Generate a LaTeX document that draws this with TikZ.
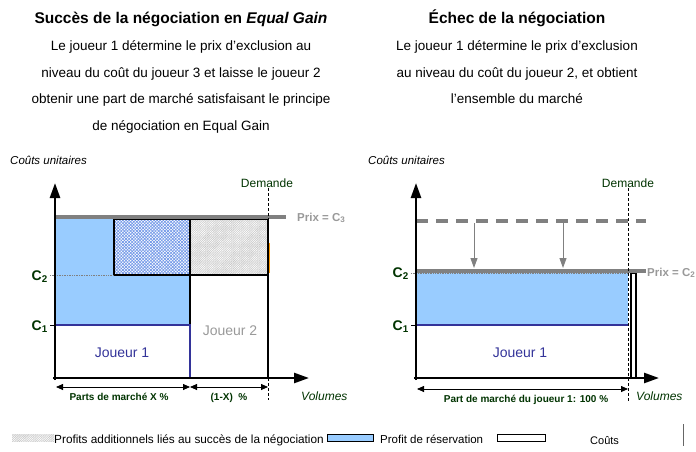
\documentclass[tikz,border=0pt]{standalone}
\usepackage{fontspec}
\setmainfont{Liberation Sans}
\usetikzlibrary{patterns.meta,arrows.meta}
\definecolor{lblue}{HTML}{99CCFF}
\definecolor{dblue}{HTML}{333399}
\definecolor{dgreen}{HTML}{003300}
\definecolor{pgray}{HTML}{808080}
\definecolor{tgray}{HTML}{999999}
\definecolor{hblue}{HTML}{6F96E8}
\definecolor{orng}{HTML}{FF9900}
\tikzset{
  txt/.style={inner sep=0pt,anchor=base},
  fs/.style={font=\fontsize{#1}{#1}\selectfont},
  axis/.style={line width=2.5pt,-{Triangle[length=15pt,width=10pt]}},
  priceline/.style={line width=4pt,pgray},
  demand/.style={densely dashed,line width=0.6pt},
  dimarrow/.style={line width=0.8pt,{Triangle[length=7pt,width=6pt]}-{Triangle[length=7pt,width=6pt]}},
  downarrow/.style={line width=1pt,pgray,-{Triangle[length=10pt,width=7pt]}},
  boxline/.style={line width=1.6pt},
  bluehatch/.style={pattern={Lines[angle=45,distance=2.2pt,line width=0.65pt]},pattern color=hblue},
  bluehatch2/.style={pattern={Lines[angle=-45,distance=2.2pt,line width=0.65pt]},pattern color=hblue},
  grayhatch/.style={pattern={Lines[angle=45,distance=1.6pt,line width=0.45pt]},pattern color=black!28},
  grayhatch2/.style={pattern={Lines[angle=-45,distance=1.6pt,line width=0.45pt]},pattern color=black!15},
  clab/.style={txt,font=\bfseries\fontsize{14}{14}\selectfont,text=dgreen},
}
\begin{document}
\begin{tikzpicture}[x=1pt,y=-1pt]
\useasboundingbox (0,0) rectangle (696,452);
% ---------- titles left
\node[txt,font=\bfseries\fontsize{15.5}{15.5}\selectfont] (tl) at (181,23.5) {Succès de la négociation en \textit{Equal Gain}};
\node[txt,fs=13.5] (l1) at (181,51) {Le joueur 1 détermine le prix d’exclusion au};
\node[txt,fs=13.5] (l2) at (181,77.5) {niveau du coût du joueur 3 et laisse le joueur 2};
\node[txt,fs=13.5] (l3) at (181,103.5) {obtenir une part de marché satisfaisant le principe};
\node[txt,fs=13.5] (l4) at (181,130) {de négociation en Equal Gain};
% ---------- titles right
\node[txt,font=\bfseries\fontsize{15.5}{15.5}\selectfont] (tr) at (517,23.5) {Échec de la négociation};
\node[txt,fs=13.5] (r1) at (517,51) {Le joueur 1 détermine le prix d’exclusion};
\node[txt,fs=13.5] (r2) at (517,77.5) {au niveau du coût du joueur 2, et obtient};
\node[txt,fs=13.5] (r3) at (517,103.5) {l’ensemble du marché};

% ================= LEFT PANEL
\node[txt,anchor=base west,font=\itshape\fontsize{11.5}{11.5}\selectfont] (cul) at (10,164) {Coûts unitaires};
\coordinate (O1) at (55,378);
\fill[lblue] (55,219) rectangle (190,325);
\fill[white] (114,219) rectangle (190,275);
\fill[bluehatch] (114,219) rectangle (190,275);
\fill[bluehatch2] (114,219) rectangle (190,275);
\draw[boxline] (114,219) rectangle (190,275);
\fill[grayhatch] (190,219) rectangle (268,275);
\fill[grayhatch2] (190,219) rectangle (268,275);
\draw[boxline] (190,219) rectangle (268,275);
\draw[boxline] (190,275) rectangle (268,378);
\draw[boxline] (190,219) -- (190,325);
\draw[boxline,dblue] (55,325) -- (190,325) -- (190,378);
\draw[orng,line width=1pt] (269.5,243) -- (269.5,273);
\draw[priceline] (55,217) -- (286,217);
\draw[demand] (268,188) -- (268,400);
\node[txt,fs=12,text=dgreen] (dem1) at (267,187) {Demande};
\node[txt,anchor=base west,font=\bfseries\fontsize{11.5}{11.5}\selectfont,text=tgray] (p1) at (297,221) {Prix = C\textsubscript{3}};
\draw[densely dotted,line width=0.7pt,pgray] (50,275) -- (114,275);
\draw[line width=0.8pt] (50,325) -- (55,325);
\node[clab,anchor=base east] (c2l) at (48,280) {C\textsubscript{2}};
\node[clab,anchor=base east] (c1l) at (48,330) {C\textsubscript{1}};
\node[txt,fs=14,text=dblue] (j1l) at (122,357) {Joueur 1};
\node[txt,fs=14,text=tgray] (j2l) at (230,335) {Joueur 2};
\draw[axis] (55,380) -- (55,183);
\draw[axis] (53,378) -- (309,378);
\coordinate (a1) at (56,387); \coordinate (a2) at (190,387); \coordinate (a3) at (268,387);
\draw[dimarrow] (a1) -- (a2);
\draw[dimarrow] (a2) -- (a3);
\node[txt,font=\bfseries\fontsize{10}{10}\selectfont,text=dgreen] (pm1) at (119,400) {Parts de marché X \%};
\node[txt,font=\bfseries\fontsize{10}{10}\selectfont,text=dgreen] (pm2) at (229,400) {(1-X)~~\%};
\node[txt,anchor=base west,font=\itshape\fontsize{12}{12}\selectfont,text=dgreen] (vol1) at (301,400) {Volumes};

% ================= RIGHT PANEL
\node[txt,anchor=base west,font=\itshape\fontsize{11.5}{11.5}\selectfont] (cur) at (368,164) {Coûts unitaires};
\fill[lblue] (416,273) rectangle (628,325);
\draw[boxline,dblue] (416,325) -- (628,325);
\draw[boxline,dblue] (416,377.5) -- (628,377.5);
\draw[line width=1.3pt] (631,273) rectangle (636,378);
\draw[line width=4pt,pgray,dash pattern=on 12pt off 8pt] (416,221) -- (646,221);
\coordinate (d1s) at (474,223); \coordinate (d1e) at (474,268);
\coordinate (d2s) at (563,223); \coordinate (d2e) at (563,268);
\draw[downarrow] (d1s) -- (d1e);
\draw[downarrow] (d2s) -- (d2e);
\draw[densely dotted,line width=0.7pt,pgray] (411,273) -- (628,273);
\draw[priceline] (416,271) -- (646,271);
\draw[line width=0.8pt] (411,325) -- (416,325);
\draw[demand] (628,188) -- (628,402);
\node[txt,fs=12,text=dgreen] (dem2) at (628,187) {Demande};
\node[txt,anchor=base west,font=\bfseries\fontsize{11.5}{11.5}\selectfont,text=tgray] (p2) at (647,276) {Prix = C\textsubscript{2}};
\node[clab,anchor=base east] (c2r) at (409,277) {C\textsubscript{2}};
\node[clab,anchor=base east] (c1r) at (409,330) {C\textsubscript{1}};
\node[txt,fs=14,text=dblue] (j1r) at (520,357) {Joueur 1};
\draw[axis] (416,380) -- (416,183);
\draw[axis] (414,378) -- (659,378);
\coordinate (b1) at (417,389); \coordinate (b2) at (628,389);
\draw[dimarrow] (b1) -- (b2);
\node[txt,font=\bfseries\fontsize{10}{10}\selectfont,text=dgreen] (pm3) at (526,402) {Part de marché du joueur 1: 100 \%};
\node[txt,anchor=base west,font=\itshape\fontsize{12}{12}\selectfont,text=dgreen] (vol2) at (636,400) {Volumes};

% ================= LEGEND
\fill[grayhatch] (12,434) rectangle (54,441);
\fill[grayhatch2] (12,434) rectangle (54,441);
\node[txt,anchor=base west,fs=11.8] (lg1) at (54,443) {Profits additionnels liés au succès de la négociation};
\draw[fill=lblue,line width=0.8pt] (327,434) rectangle (373,441);
\node[txt,anchor=base west,fs=11.5] (lg2) at (380,443) {Profit de réservation};
\draw[fill=white,line width=0.8pt] (497,434) rectangle (545,441);
\node[txt,anchor=base west,fs=11] (lg3) at (590,444) {Coûts};
\draw[line width=0.5pt,black!60] (683,424) -- (683,446);
\end{tikzpicture}
\end{document}
